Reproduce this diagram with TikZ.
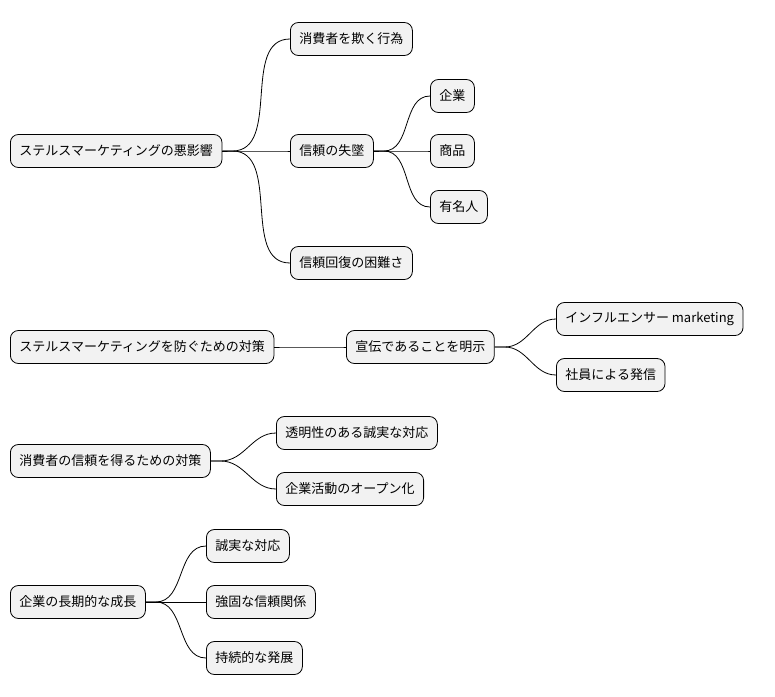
\documentclass[tikz,border=0pt]{standalone}
\usepackage{fontspec}
\setmainfont{Noto Sans CJK JP}
\begin{document}
\begin{tikzpicture}[x=1pt,y=-1pt,
    topic/.style={draw=black, fill=gray!10, rounded corners=8pt, line width=0.8pt,
      minimum height=33pt, inner xsep=9pt, font=\fontsize{13}{15}\selectfont, anchor=west},
    link/.style={line width=0.8pt}]
  \useasboundingbox (0,0) rectangle (775,696);
  % group 1
  \node[topic] (harm)    at (10,151) {ステルスマーケティングの悪影響};
  \node[topic] (deceive) at (290,39)  {消費者を欺く行為};
  \node[topic] (loss)    at (290,151) {信頼の失墜};
  \node[topic] (corp)    at (430,96)  {企業};
  \node[topic] (goods)   at (430,151) {商品};
  \node[topic] (celeb)   at (430,207) {有名人};
  \node[topic] (recover) at (290,263) {信頼回復の困難さ};
  % group 2
  \node[topic] (prevent) at (10,347)  {ステルスマーケティングを防ぐための対策};
  \node[topic] (declare) at (346,347) {宣伝であることを明示};
  \node[topic] (infl)    at (556,319) {インフルエンサー marketing};
  \node[topic] (staff)   at (556,375) {社員による発信};
  % group 3
  \node[topic] (trust)   at (10,461)  {消費者の信頼を得るための対策};
  \node[topic] (transp)  at (276,433) {透明性のある誠実な対応};
  \node[topic] (open)    at (276,489) {企業活動のオープン化};
  % group 4
  \node[topic] (growth)  at (10,602)  {企業の長期的な成長};
  \node[topic] (honest)  at (206,546) {誠実な対応};
  \node[topic] (bond)    at (206,602) {強固な信頼関係};
  \node[topic] (sustain) at (206,658) {持続的な発展};
  % connectors
  \foreach \p/\c in {harm/deceive, harm/loss, harm/recover, loss/corp, loss/goods,
      loss/celeb, prevent/declare, declare/infl, declare/staff, trust/transp,
      trust/open, growth/honest, growth/bond, growth/sustain}
    \draw[link] (\p.east) -- ++(10,0) to[out=0,in=180] (\c.west);
\end{tikzpicture}
\end{document}
